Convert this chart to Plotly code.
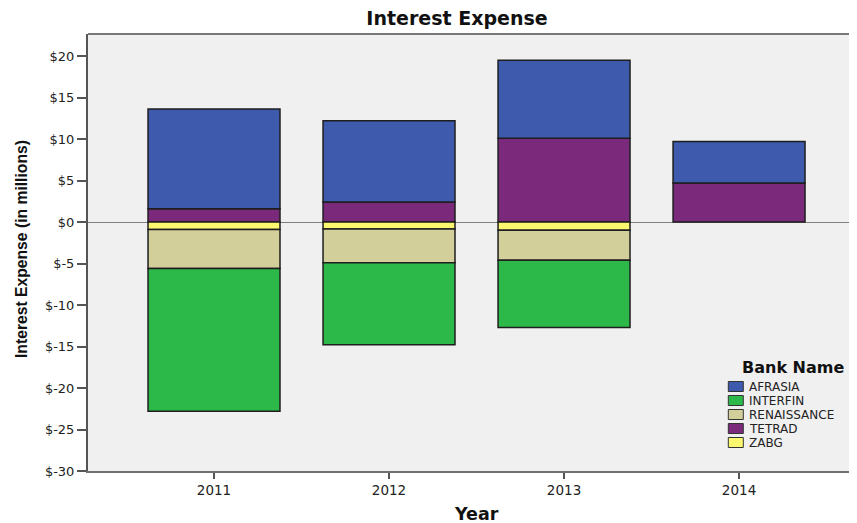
import plotly.graph_objects as go

years = ["2011", "2012", "2013", "2014"]
afrasia = [12.0, 9.8, 9.4, 5.0]
interfin = [-17.2, -9.9, -8.1, None]
renaissance = [-4.7, -4.05, -3.6, None]
tetrad = [1.6, 2.4, 10.1, 4.7]
zabg = [-0.9, -0.85, -1.0, None]

y_tickvals = [20, 15, 10, 5, 0, -5, -10, -15, -20, -25, -30]
y_ticktext = ["$20", "$15", "$10", "$5", "$0", "$-5", "$-10", "$-15", "$-20", "$-25", "$-30"]

legend_names = ["AFRASIA", "INTERFIN", "RENAISSANCE", "TETRAD", "ZABG"]
colors = {
    "AFRASIA": "#3d5aad",
    "INTERFIN": "#2db84a",
    "RENAISSANCE": "#d3cf9a",
    "TETRAD": "#7b2a7b",
    "ZABG": "#fbf76f",
}

# figure geometry (the page has an 8px body margin)
W, H = 849, 515
ML, MR, MT, MB = 80, 0, 26, 52
PW, PH = W - ML - MR, H - MT - MB


def px(fx):
    return (fx - ML) / PW


def py(fy):
    return (H - MB - fy) / PH


fig = go.Figure()
for name, vals in [("TETRAD", tetrad), ("ZABG", zabg), ("RENAISSANCE", renaissance),
                   ("AFRASIA", afrasia), ("INTERFIN", interfin)]:
    fig.add_trace(go.Bar(
        x=years, y=vals, name=name, showlegend=False,
        marker=dict(color=colors[name], line=dict(color="#1e1e1e", width=1.5)),
        width=0.754,
    ))

fig.update_layout(
    barmode="relative",
    width=W, height=H,
    margin=dict(l=ML, r=MR, t=MT, b=MB, autoexpand=False),
    paper_bgcolor="white",
    plot_bgcolor="#f0f0f0",
    font=dict(family="DejaVu Sans, sans-serif", size=13, color="#222"),
    title=dict(text="<b>Interest Expense</b>", x=449 / W, xanchor="center",
               y=1 - 10 / H, yanchor="middle",
               font=dict(family="DejaVu Sans, sans-serif", size=19, color="#111")),
    showlegend=False,
    xaxis=dict(
        range=[-0.72, 3.674], showline=True, linecolor="#707070", linewidth=2,
        ticks="outside", ticklen=6, tickcolor="#555", tickwidth=2,
        tickfont=dict(size=13.5, color="#222"), showgrid=False, zeroline=False,
        automargin=False,
    ),
    yaxis=dict(
        range=[-30, 22.65], tickvals=y_tickvals, ticktext=y_ticktext,
        showline=True, linecolor="#555", linewidth=2,
        ticks="outside", ticklen=9, tickcolor="#555", tickwidth=2,
        tickfont=dict(size=13, color="#222"), showgrid=False,
        zeroline=True, zerolinecolor="#808080", zerolinewidth=1,
        automargin=False,
    ),
)

# top frame line
fig.add_shape(type="line", xref="paper", yref="paper", x0=0, x1=1, y0=1, y1=1,
              line=dict(color="#777", width=2))

# axis titles
fig.add_annotation(text="<b>Interest Expense (in millions)</b>", textangle=-90,
                   xref="paper", yref="paper", x=px(13), y=py(241),
                   xanchor="center", yanchor="middle", showarrow=False,
                   font=dict(family="Liberation Sans, Arial, sans-serif", size=15.7, color="#111"))
fig.add_annotation(text="<b>Year</b>", xref="paper", yref="paper",
                   x=px(469), y=py(506), xanchor="center", yanchor="middle",
                   showarrow=False,
                   font=dict(family="DejaVu Sans, sans-serif", size=17.5, color="#111"))

# legend block
fig.add_annotation(text="<b>Bank Name</b>", xref="paper", yref="paper",
                   x=px(785), y=py(359), xanchor="center", yanchor="middle",
                   showarrow=False,
                   font=dict(family="DejaVu Sans, sans-serif", size=16, color="#111"))
row_y = [378.5, 392.5, 406.5, 420.5, 434.5]
for name, ry in zip(legend_names, row_y):
    fig.add_shape(type="rect", xref="paper", yref="paper",
                  x0=px(720.3), x1=px(735.3), y0=py(ry - 5), y1=py(ry + 5),
                  fillcolor=colors[name], line=dict(color="#333", width=1))
    fig.add_annotation(text=name, xref="paper", yref="paper",
                       x=px(740), y=py(ry), xanchor="left", yanchor="middle",
                       showarrow=False, borderpad=0,
                       font=dict(family="DejaVu Sans, sans-serif", size=12, color="#222"))

fig.write_html("out.html")
